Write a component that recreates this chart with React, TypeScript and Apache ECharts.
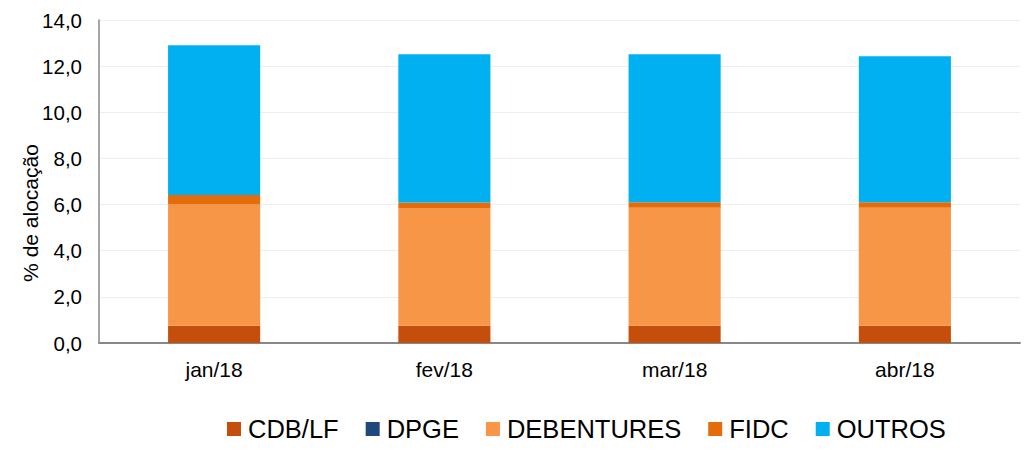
import React, { useEffect, useRef } from "react";
import * as echarts from "echarts";

const categories = ["jan/18", "fev/18", "mar/18", "abr/18"];
const cdbLf = [0.75, 0.75, 0.75, 0.75];
const dpge = [0, 0, 0, 0];
const debentures = [5.25, 5.08, 5.11, 5.11];
const fidc = [0.42, 0.26, 0.24, 0.24];
const outros = [6.49, 6.43, 6.42, 6.33];
const yTicks = { min: 0, max: 14, interval: 2 };

const FONT = "'Liberation Sans', Arial, sans-serif";

export default function App() {
  const ref = useRef<HTMLDivElement>(null);
  useEffect(() => {
    document.body.style.margin = "0";
    const chart = echarts.init(ref.current!, undefined, { renderer: "svg" });
    const mk = (name: string, data: number[], color: string) => ({
      name,
      type: "bar",
      stack: "total",
      data,
      barWidth: "40%",
      itemStyle: { color },
      emphasis: { disabled: true },
    });
    chart.setOption({
      animation: false,
      textStyle: { fontFamily: FONT },
      grid: { left: 99, right: 15, top: 20, bottom: 107 },
      legend: {
        top: 416,
        left: 227,
        itemWidth: 14,
        itemHeight: 14,
        itemGap: 27,
        icon: "rect",
        padding: 0,
        textStyle: { fontSize: 25.5, color: "#000", fontFamily: FONT, padding: [0, 0, 0, 2] },
        data: ["CDB/LF", "DPGE", "DEBENTURES", "FIDC", "OUTROS"],
      },
      graphic: [
        {
          type: "text",
          x: 30,
          y: 213,
          rotation: Math.PI / 2,
          style: {
            text: "% de alocação",
            fontSize: 21,
            fontFamily: FONT,
            fill: "#000",
            align: "center",
            verticalAlign: "middle",
          },
        },
      ],
      xAxis: {
        type: "category",
        data: categories,
        axisLine: { lineStyle: { color: "#888", width: 2 } },
        axisTick: { show: false },
        axisLabel: { fontSize: 21, color: "#000", margin: 16 },
      },
      yAxis: {
        type: "value",
        min: yTicks.min,
        max: yTicks.max,
        interval: yTicks.interval,
        axisLine: { show: true, lineStyle: { color: "#888", width: 1.5 } },
        axisTick: { show: false },
        splitLine: { lineStyle: { color: "#eeeeee", width: 1 } },
        axisLabel: {
          fontSize: 20.5,
          color: "#000",
          margin: 17,
          formatter: (v: number) => v.toFixed(1).replace(".", ","),
        },
      },
      series: [
        mk("CDB/LF", cdbLf, "#C54E0D"),
        mk("DPGE", dpge, "#1F497D"),
        mk("DEBENTURES", debentures, "#F79646"),
        mk("FIDC", fidc, "#E46C0A"),
        mk("OUTROS", outros, "#00B0F0"),
      ],
    });
    return () => chart.dispose();
  }, []);
  return <div ref={ref} style={{ width: 1035, height: 450 }} />;
}
